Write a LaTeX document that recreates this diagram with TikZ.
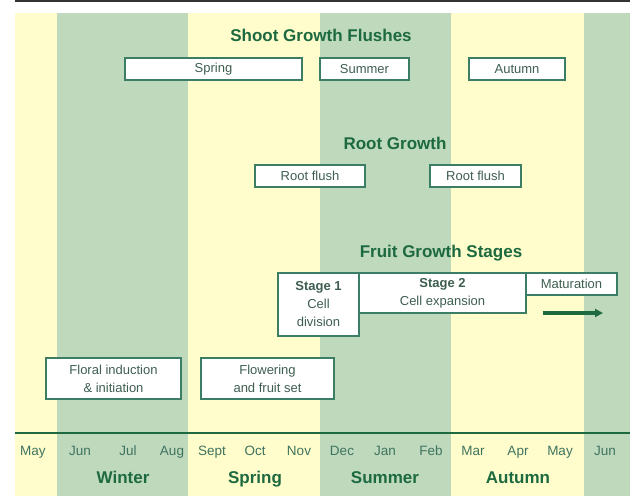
\documentclass[tikz,border=0pt]{standalone}
\usepackage{fontspec}
\setmainfont{Liberation Sans}
\usetikzlibrary{arrows.meta}
\definecolor{ybg}{HTML}{FFFDCB}
\definecolor{gbg}{HTML}{BFD9BD}
\definecolor{tgreen}{HTML}{1D6A40}
\definecolor{bline}{HTML}{3C7D66}
\definecolor{btext}{HTML}{3E5E50}
\definecolor{mtext}{HTML}{3F7460}
\tikzset{
  box/.style={draw=bline, line width=1.2pt, fill=white, inner sep=0pt, minimum height=22pt,
    font=\fontsize{13}{18}\selectfont, text=btext, align=center},
  ttl/.style={font=\fontsize{17}{20}\selectfont\bfseries, text=tgreen, inner sep=0pt},
  mon/.style={font=\fontsize{13.5}{16}\selectfont, text=mtext, inner sep=0pt, anchor=base},
  sea/.style={font=\fontsize{17}{20}\selectfont\bfseries, text=tgreen, inner sep=0pt, anchor=base},
  bgy/.style={fill=ybg, draw=none},
  bgg/.style={fill=gbg, draw=none}
}
\begin{document}
\begin{tikzpicture}[x=1pt,y=-1pt]
\useasboundingbox (0,0) rectangle (630,496);
% background bands
\fill[bgy] (15,13) rectangle (57,496);
\fill[bgg] (57,13) rectangle (188,496);
\fill[bgy] (188,13) rectangle (320,496);
\fill[bgg] (320,13) rectangle (451,496);
\fill[bgy] (451,13) rectangle (584,496);
\fill[bgg] (584,13) rectangle (630,496);
% rules
\draw[line width=1.5pt, color=black!80] (15,0.8) -- (630,0.8);
\draw[line width=1.2pt, color=tgreen] (15,433) -- (630,433);
% titles
\node[ttl] (tshoot) at (321,35) {Shoot Growth Flushes};
\node[ttl] (troot) at (395,143) {Root Growth};
\node[ttl] (tfruit) at (441,253) {Fruit Growth Stages};
% shoot flushes
\node[box, minimum width=177pt] (sspring) at (213.5,69) {Spring};
\node[box, minimum width=89pt] (ssummer) at (364.5,69) {Summer};
\node[box, minimum width=96pt] (sautumn) at (517,69) {Autumn};
% root flushes
\node[box, minimum width=110pt] (root1) at (310,176) {Root flush};
\node[box, minimum width=91pt] (root2) at (475.5,176) {Root flush};
% fruit stages
\node[box, minimum width=81pt, minimum height=63pt] (stage1) at (318.5,304.5) {\textbf{Stage 1}\\Cell\\division};
\node[box, minimum width=167pt, minimum height=40pt] (stage2) at (442.5,293) {\textbf{Stage 2}\\Cell expansion};
\node[box, minimum width=91pt] (matur) at (571.5,284) {Maturation};
\coordinate (arrs) at (543,313);
\coordinate (arre) at (603,313);
\draw[line width=3.2pt, color=tgreen, -{Triangle[length=8pt,width=8pt]}] (arrs) -- (arre);
% flowering
\node[box, minimum width=135pt, minimum height=41pt] (floral) at (113.5,378.5) {Floral induction\\\& initiation};
\node[box, minimum width=133pt, minimum height=41pt] (flower) at (267.5,378.5) {Flowering\\and fruit set};
% months
\node[mon] (m1) at (33,455.5) {May};
\node[mon] (m2) at (80,455.5) {Jun};
\node[mon] (m3) at (128,455.5) {Jul};
\node[mon] (m4) at (172,455.5) {Aug};
\node[mon] (m5) at (212,455.5) {Sept};
\node[mon] (m6) at (255,455.5) {Oct};
\node[mon] (m7) at (299,455.5) {Nov};
\node[mon] (m8) at (342,455.5) {Dec};
\node[mon] (m9) at (385,455.5) {Jan};
\node[mon] (m10) at (431,455.5) {Feb};
\node[mon] (m11) at (473,455.5) {Mar};
\node[mon] (m12) at (518,455.5) {Apr};
\node[mon] (m13) at (560,455.5) {May};
\node[mon] (m14) at (605,455.5) {Jun};
% seasons
\node[sea] (swin) at (123,483.5) {Winter};
\node[sea] (sspr) at (255,483.5) {Spring};
\node[sea] (ssum) at (385,483.5) {Summer};
\node[sea] (saut) at (518,483.5) {Autumn};
\end{tikzpicture}
\end{document}
